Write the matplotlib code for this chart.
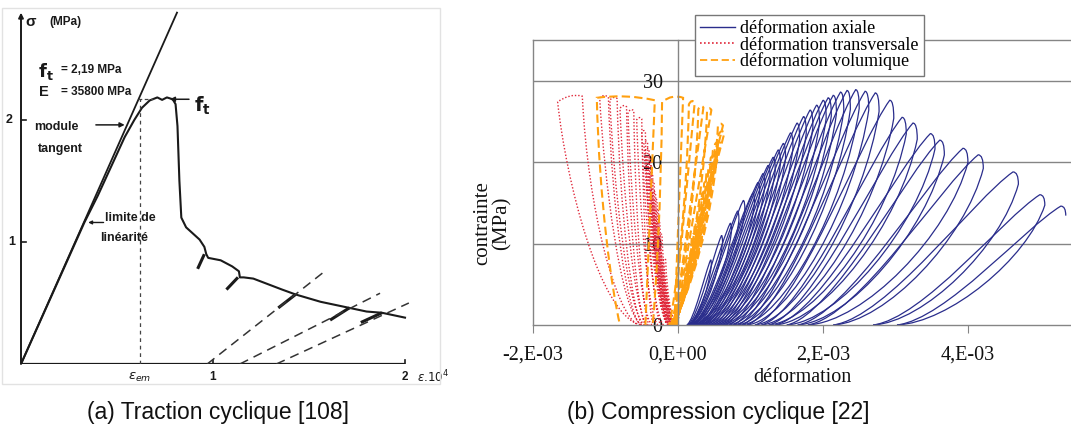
import matplotlib
matplotlib.use('Agg')
import matplotlib.pyplot as plt
from matplotlib.path import Path
from matplotlib.patches import PathPatch, Rectangle
from matplotlib.lines import Line2D
from matplotlib import font_manager

W, H = 1071, 437

# ---------------- (a) traction cyclique (eps.10^4, MPa) ----------------
trac_x = [0, 0.33, 0.40, 0.47, 0.54, 0.59, 0.63, 0.67, 0.71, 0.735, 0.76, 0.79, 0.805,
          0.815, 0.825, 0.835, 0.86, 0.93, 0.955, 0.965, 0.975, 1.04, 1.10, 1.135, 1.14,
          1.16, 1.21, 1.36, 1.43, 1.56, 1.71, 1.80, 1.88, 2.0]
trac_y = [0, 1.16, 1.38, 1.62, 1.86, 2.0, 2.1, 2.16, 2.185, 2.165, 2.185, 2.17, 2.13,
          1.95, 1.5, 1.2, 1.12, 1.02, 0.96, 0.9, 0.87, 0.85, 0.80, 0.76, 0.71,
          0.71, 0.70, 0.61, 0.57, 0.51, 0.46, 0.43, 0.42, 0.38]
young_x = [0, 0.8125]
young_y = [0, 2.88]
# short unloading strokes under the softening branch
stub_x0 = [0.92, 1.07, 1.34, 1.61, 1.77]
stub_y0 = [0.78, 0.61, 0.46, 0.36, 0.34]
stub_x1 = [0.955, 1.13, 1.43, 1.71, 1.88]
stub_y1 = [0.90, 0.71, 0.57, 0.46, 0.42]
# dashed reloading lines
rel_x0 = [0.97, 1.14, 1.33]
rel_x1 = [1.59, 1.87, 2.02]
rel_y1 = [0.77, 0.58, 0.50]
eps_em = 0.62
ft_val = 2.17

# ---------------- (b) compression cyclique (strain in 1e-3, stress in MPa) ----------------
# axial: residual strain at start of each cycle, peak of each cycle
ax_start = [0.12, 0.13, 0.14, 0.15, 0.16, 0.18, 0.20, 0.22, 0.25, 0.28, 0.30, 0.33,
            0.36, 0.40, 0.44, 0.48, 0.52, 0.56, 0.60, 0.64, 0.70, 0.76, 0.82, 0.88,
            0.95, 1.06, 1.15, 1.25, 1.34, 1.50, 1.65, 1.79, 2.14, 2.69, 3.02]
ax_peak_e = [0.45, 0.60, 0.72, 0.82, 0.90, 1.03, 1.10, 1.17, 1.24, 1.31, 1.38, 1.45,
             1.55, 1.64, 1.73, 1.82, 1.91, 2.00, 2.07, 2.14, 2.24, 2.33, 2.45, 2.58,
             2.72, 2.92, 3.09, 3.24, 3.48, 3.61, 3.93, 4.14, 4.62, 4.99, 5.28]
ax_peak_s = [8.0, 11.0, 12.5, 14.0, 15.3, 16.2, 17.5, 18.6, 19.6, 20.6, 21.5, 22.3,
             23.6, 24.8, 25.6, 26.4, 27.0, 27.6, 27.9, 28.2, 28.6, 28.8, 28.9, 28.7,
             28.5, 27.6, 25.5, 24.8, 23.5, 22.7, 21.7, 20.9, 18.8, 16.0, 14.6]

# transverse: bottom start, top-left corner, top-right corner, bottom end
tr_start = [-0.02, -0.03, -0.04, -0.05, -0.06, -0.07, -0.08, -0.09, -0.10, -0.11,
            -0.12, -0.13, -0.20, -0.28, -0.36, -0.42, -0.46, -0.50, -0.52]
tr_left_e = [-0.20, -0.25, -0.28, -0.31, -0.33, -0.35, -0.37, -0.39, -0.41, -0.43,
             -0.45, -0.47, -0.50, -0.57, -0.69, -0.80, -0.94, -1.08, -1.66]
tr_left_s = [8.0, 11.0, 12.5, 14.0, 15.3, 16.2, 17.5, 18.6, 19.6, 20.6,
             21.5, 22.3, 23.6, 25.2, 26.1, 26.6, 27.6, 27.9, 27.4]
tr_right_e = [-0.17, -0.22, -0.25, -0.27, -0.29, -0.31, -0.33, -0.35, -0.37, -0.38,
              -0.40, -0.42, -0.45, -0.50, -0.61, -0.71, -0.84, -0.96, -1.32]
tr_right_s = [8.0, 11.0, 12.5, 14.0, 15.3, 16.2, 17.5, 18.6, 19.6, 20.6,
              21.5, 22.4, 23.7, 25.3, 26.3, 26.8, 27.8, 28.0, 28.1]
tr_end = [-0.03, -0.04, -0.05, -0.06, -0.07, -0.08, -0.09, -0.10, -0.11, -0.12,
          -0.13, -0.15, -0.24, -0.34, -0.40, -0.45, -0.49, -0.52, -0.55]

# volumetric: bottom right, top-right corner, top-left corner, bottom left
vol_start = [-0.02, -0.02, -0.02, -0.03, -0.03, -0.03, -0.03, -0.04, -0.04, -0.04,
             -0.04, -0.05, -0.05, -0.05, -0.04, -0.05, -0.06, -0.05, -0.45]
vol_right_e = [0.17, 0.25, 0.29, 0.33, 0.37, 0.40, 0.44, 0.47, 0.50, 0.53,
               0.56, 0.59, 0.64, 0.62, 0.46, 0.35, 0.23, 0.07, -0.32]
vol_right_s = [8.0, 11.0, 12.5, 14.0, 15.3, 16.2, 17.5, 18.6, 19.6, 20.6,
               21.5, 22.3, 23.6, 24.5, 26.4, 26.7, 27.3, 27.9, 27.6]
vol_left_e = [0.12, 0.19, 0.23, 0.27, 0.30, 0.33, 0.36, 0.39, 0.42, 0.45,
              0.48, 0.51, 0.56, 0.55, 0.40, 0.28, 0.15, -0.22, -1.12]
vol_left_s = [7.9, 10.9, 12.4, 13.9, 15.2, 16.1, 17.4, 18.5, 19.5, 20.5,
              21.4, 22.2, 23.4, 24.4, 26.2, 26.5, 27.1, 27.4, 27.9]
vol_end = [-0.05, -0.05, -0.05, -0.06, -0.06, -0.06, -0.06, -0.07, -0.07, -0.07,
           -0.07, -0.08, -0.08, -0.08, -0.09, -0.10, -0.12, -0.35, -0.80]

xtick_vals = [-2e-3, 0, 2e-3, 4e-3]
xtick_labels = ['-2,E-03', '0,E+00', '2,E-03', '4,E-03']
ytick_vals = [0, 10, 20, 30]

BLUE = '#2a2d8c'
RED = '#e0283a'
ORANGE = '#ffa010'
GRID = '#858585'
INK = '#1a1a1a'

# narrow sans for the captions if it is there
installed = {f.name for f in font_manager.fontManager.ttflist}
if 'Liberation Sans Narrow' in installed:
    cap_font, cap_size = 'Liberation Sans Narrow', 19.5
else:
    cap_font, cap_size = 'Liberation Sans', 16.5


def loop_path(x0, xa, sa, xb, sb, x1, up, top, down):
    """bezier loop: (x0,0) -> (xa,sa) -> (xb,sb) -> (x1,0); strains in 1e-3"""
    k1, k2, k3, k4 = up
    dx = xa - x0
    v = [(x0, 0), (x0 + k1 * dx, k2 * sa), (xa - k3 * dx, k4 * sa), (xa, sa)]
    c = [Path.MOVETO, Path.CURVE4, Path.CURVE4, Path.CURVE4]
    frac, lift = top
    v += [(xa + frac * (xb - xa), max(sa, sb) + lift), (xb, sb)]
    c += [Path.CURVE3, Path.CURVE3]
    if x1 is not None:
        m1, m2, m3, m4 = down
        dx2 = x1 - xb
        v += [(xb + m1 * dx2, m2 * sb), (x1 - m3 * dx2, m4 * sb), (x1, 0)]
        c += [Path.CURVE4] * 3
    v = [(x * 1e-3, y) for x, y in v]
    return Path(v, c)


fig = plt.figure(figsize=(W / 100, H / 100), dpi=100)
fig.patch.set_facecolor('white')

# faint frame of the scanned picture
fig.patches.append(Rectangle((2 / W, 1 - 384 / H), 438 / W, 376 / H, transform=fig.transFigure,
                             fill=False, edgecolor='#e2e2e2', lw=1.0))

# ======================= left panel =======================
ax1 = fig.add_axes([21 / W, 1 - 364 / H, 419 / W, 356 / H])
ax1.set_xlim(0, 419 / 192)
ax1.set_ylim(0, 356 / 122)
ax1.axis('off')

sans = 'Liberation Sans'
ax1.annotate('', xy=(0, 2.88), xytext=(0, 0),
             arrowprops=dict(arrowstyle='-|>', color=INK, lw=1.4, mutation_scale=7, shrinkA=0, shrinkB=0))
ax1.plot([0, 2.0], [0, 0], color=INK, lw=1.6, solid_capstyle='butt')
for yt in [1, 2]:
    ax1.plot([0, 0.025], [yt, yt], color=INK, lw=1.2)
for xt in [1, 2]:
    ax1.plot([xt, xt], [0, 0.03], color=INK, lw=1.2)

ax1.plot(young_x, young_y, color=INK, lw=1.3)
ax1.plot(trac_x, trac_y, color=INK, lw=1.5)
for i in range(len(stub_x0)):
    ax1.plot([stub_x0[i], stub_x1[i]], [stub_y0[i], stub_y1[i]], color=INK, lw=2.2,
             solid_capstyle='butt')
for i in range(len(rel_x0)):
    ax1.plot([rel_x0[i], rel_x1[i]], [0, rel_y1[i]], color='#333333', lw=1.1,
             linestyle=(0, (6, 4)))
ax1.plot([eps_em, eps_em], [0, ft_val], color='#444444', lw=0.9, linestyle=(0, (3, 3)))
ax1.plot([eps_em - 0.01, 0.69], [ft_val, ft_val], color='#444444', lw=0.9, linestyle=(0, (3, 2)))

lab = dict(va='center', family=sans, color=INK, fontweight='bold')
ax1.text(0.025, 2.80, 'σ', fontsize=11, **lab)
ax1.text(0.15, 2.80, '(MPa)', fontsize=8.5, **lab)
ax1.text(0.09, 2.40, r'$\mathbf{f_t}$', fontsize=13, va='center', color=INK)
ax1.text(0.21, 2.41, '= 2,19 MPa', fontsize=8.5, **lab)
ax1.text(0.095, 2.23, 'E', fontsize=10.5, **lab)
ax1.text(0.21, 2.23, '= 35800 MPa', fontsize=8.5, **lab)
ax1.text(0.90, 2.12, r'$\mathbf{f_t}$', fontsize=14, va='center', color=INK)
ax1.annotate('', xy=(0.775, 2.17), xytext=(0.875, 2.17),
             arrowprops=dict(arrowstyle='-|>', color=INK, lw=1.1, mutation_scale=7, shrinkA=0, shrinkB=0))
ax1.text(0.07, 1.94, 'module', fontsize=9, **lab)
ax1.text(0.09, 1.76, 'tangent', fontsize=9, **lab)
ax1.annotate('', xy=(0.54, 1.96), xytext=(0.39, 1.96),
             arrowprops=dict(arrowstyle='-|>', color=INK, lw=1.1, mutation_scale=7, shrinkA=0, shrinkB=0))
ax1.text(0.44, 1.20, 'limite de', fontsize=9, **lab)
ax1.text(0.41, 1.03, 'linéarité', fontsize=9, **lab)
ax1.annotate('', xy=(0.35, 1.16), xytext=(0.43, 1.16),
             arrowprops=dict(arrowstyle='-|>', color=INK, lw=1.0, mutation_scale=5, shrinkA=0, shrinkB=0))
ax1.text(-0.062, 2.0, '2', fontsize=9, ha='center', **lab)
ax1.text(-0.047, 1.0, '1', fontsize=9, ha='center', **lab)
ax1.text(eps_em, -0.11, r'$\epsilon_{em}$', fontsize=9.5, va='center', ha='center', color=INK)
ax1.text(1.0, -0.11, '1', fontsize=8.5, ha='center', **lab)
ax1.text(2.0, -0.11, '2', fontsize=8.5, ha='center', **lab)
ax1.text(2.06, -0.11, r'$\epsilon$.10$^4$', fontsize=8.5, va='center', ha='left', color=INK)

# ======================= right panel =======================
ax2 = fig.add_axes([533 / W, 1 - 325 / H, 538 / W, 285 / H])
ax2.set_xlim(-2e-3, 5.42e-3)
ax2.set_ylim(0, 35)
ax2.spines['right'].set_visible(False)
ax2.spines['left'].set_position(('data', 0))
for side in ['left', 'top', 'bottom']:
    ax2.spines[side].set_color(GRID)
    ax2.spines[side].set_linewidth(1.0)
ax2.axvline(-2e-3, color=GRID, lw=1.0, clip_on=False)
for yv in [10, 20, 30]:
    ax2.axhline(yv, color=GRID, lw=1.0, zorder=0.5)

serif = 'Liberation Serif'
ax2.set_xticks(xtick_vals)
ax2.set_xticklabels(xtick_labels, family=serif, fontsize=14.5)
ax2.tick_params(axis='x', length=6, color=GRID, pad=9, labelcolor='#111111')
ax2.set_yticks(ytick_vals)
ax2.set_yticklabels([str(v) for v in ytick_vals], family=serif, fontsize=14.5)
ax2.tick_params(axis='y', length=0, pad=11, labelcolor='#111111')

n_ax = len(ax_start)
for i in range(n_ax):
    x0, p, s = ax_start[i], ax_peak_e[i], ax_peak_s[i]
    w = p - x0
    x1 = ax_start[i + 1] if i < n_ax - 1 else None
    path = loop_path(x0, p, s, p + 0.03 * w, 0.92 * s, x1,
                     up=(0.3, 0.05, 0.22, 0.82), top=(1.0, 0.0), down=(0.12, 0.55, 0.35, 0.02))
    ax2.add_patch(PathPatch(path, fill=False, edgecolor=BLUE, lw=0.9, zorder=2))

for i in range(len(tr_start)):
    path = loop_path(tr_start[i], tr_left_e[i], tr_left_s[i], tr_right_e[i], tr_right_s[i], tr_end[i],
                     up=(0.5, 0.05, 0.1, 0.65), top=(0.5, 0.4), down=(0.1, 0.5, 0.4, 0.05))
    ax2.add_patch(PathPatch(path, fill=False, edgecolor=RED, lw=1.0,
                            linestyle=(0, (1, 1.4)), zorder=2.1))

for i in range(len(vol_start)):
    path = loop_path(vol_start[i], vol_right_e[i], vol_right_s[i], vol_left_e[i], vol_left_s[i], vol_end[i],
                     up=(0.33, 0.33, 0.33, 0.67), top=(0.5, 0.5), down=(0.1, 0.55, 0.35, 0.15))
    ax2.add_patch(PathPatch(path, fill=False, edgecolor=ORANGE, lw=1.5,
                            linestyle=(0, (4, 2)), zorder=2.2))

handles = [Line2D([], [], color=BLUE, lw=1.0),
           Line2D([], [], color=RED, lw=1.2, linestyle=(0, (1, 1.4))),
           Line2D([], [], color=ORANGE, lw=1.3, linestyle=(0, (4, 2)))]
labels = ['déformation axiale', 'déformation transversale', 'déformation volumique']
leg = ax2.legend(handles, labels, loc='upper left', bbox_to_anchor=(695 / W, 1 - 15 / H),
                 bbox_transform=fig.transFigure, prop=dict(family=serif, size=13),
                 frameon=True, fancybox=False, edgecolor='#777777', framealpha=1,
                 borderpad=0.3, labelspacing=-0.05, handlelength=1.9, handletextpad=0.3,
                 borderaxespad=0)
leg.get_frame().set_linewidth(1.0)
leg.set_zorder(5)

fig.text(492 / W, 1 - 223 / H, 'contrainte\n(MPa)', rotation=90, ha='center', va='center',
         multialignment='center', family=serif, fontsize=15, linespacing=1.0, color='#111111')
fig.text(802 / W, 1 - 377 / H, 'déformation', ha='center', va='center',
         family=serif, fontsize=14.5, color='#111111')

# ======================= captions =======================
fig.text(218 / W, 1 - 412 / H, '(a) Traction cyclique [108]', ha='center', va='center',
         family=cap_font, fontsize=cap_size, color='#111111')
fig.text(718 / W, 1 - 412 / H, '(b) Compression cyclique [22]', ha='center', va='center',
         family=cap_font, fontsize=cap_size, color='#111111')

fig.savefig('out.png', dpi=100, facecolor='white')
